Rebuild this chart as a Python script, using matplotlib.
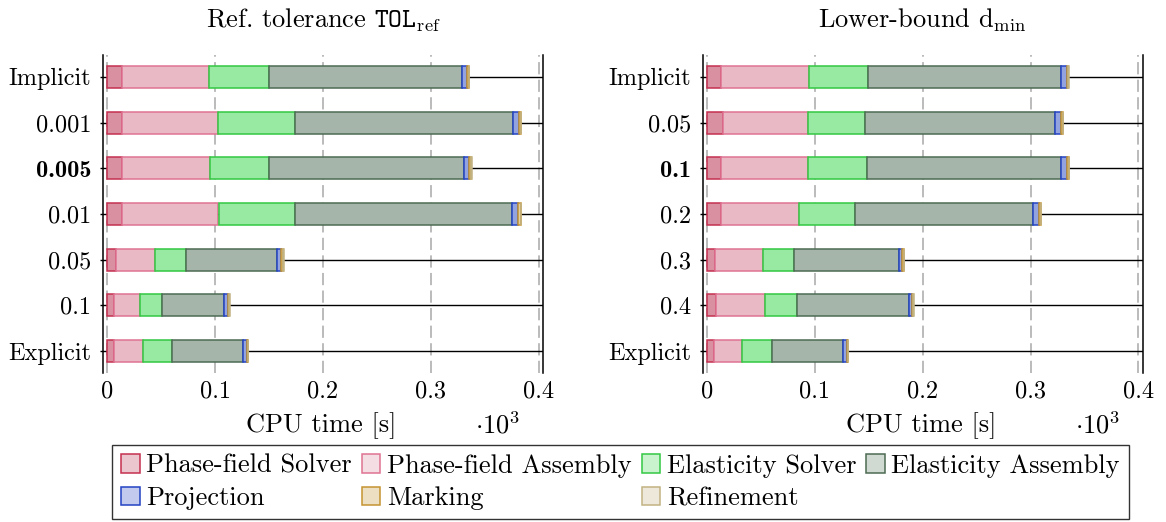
import numpy as np
import matplotlib
matplotlib.use("Agg")
import matplotlib.pyplot as plt
from matplotlib.patches import Patch

plt.rcParams["font.family"] = ["cmr10", "DejaVu Serif"]
plt.rcParams["mathtext.fontset"] = "cm"
plt.rcParams["axes.formatter.use_mathtext"] = True
plt.rcParams["font.size"] = 17.5

# CPU time per component [s]
tol_labels = ["Implicit", "0.001", "0.005", "0.01", "0.05", "0.1", "Explicit"]
tol_pf_solver = [13.3, 13.6, 13.3, 13.6, 8.3, 5.9, 6.5]
tol_pf_assembly = [80.8, 89.2, 81.5, 89.5, 35.5, 24.0, 26.5]
tol_el_solver = [55.6, 71.3, 55.2, 70.7, 29.3, 21.0, 27.2]
tol_el_assembly = [179.0, 202.1, 180.6, 201.8, 84.6, 57.7, 65.4]
tol_projection = [4.9, 5.3, 4.6, 5.3, 3.7, 3.7, 3.7]
tol_marking = [1.6, 2.1, 2.5, 2.4, 1.6, 1.0, 0.9]
tol_refinement = [0.4, 0.4, 0.4, 0.4, 0.4, 0.4, 0.4]

dmin_labels = ["Implicit", "0.05", "0.1", "0.2", "0.3", "0.4", "Explicit"]
dmin_pf_solver = [13.3, 14.5, 13.3, 12.9, 7.4, 8.0, 6.2]
dmin_pf_assembly = [81.0, 78.9, 80.4, 72.8, 44.4, 46.2, 26.5]
dmin_el_solver = [55.2, 53.3, 54.8, 51.4, 29.2, 29.6, 27.4]
dmin_el_assembly = [178.7, 176.0, 179.7, 165.2, 97.1, 103.3, 65.6]
dmin_projection = [5.2, 5.5, 5.5, 5.3, 3.1, 3.0, 3.7]
dmin_marking = [1.6, 1.5, 1.9, 1.8, 1.2, 1.3, 0.9]
dmin_refinement = [0.4, 0.4, 0.4, 0.4, 0.4, 0.4, 0.4]

component_names = ["Phase-field Solver", "Phase-field Assembly", "Elasticity Solver",
                   "Elasticity Assembly", "Projection", "Marking", "Refinement"]
bar_faces = ["#d991a1", "#e9b9c5", "#98e9a1", "#a6b5a9", "#93a3e0", "#e2d2a3", "#e9e1cd"]
edge_colors = ["#c4304f", "#df7393", "#33c843", "#4d6b53", "#2443c4", "#c49331", "#c2b383"]
legend_faces = ["#ecc6ce", "#f4dde3", "#c8f3cc", "#d0d9d2", "#c2cbed", "#ecdfc2", "#eee8da"]

xticks = [0.0, 0.1, 0.2, 0.3, 0.4]
big = 19

fig = plt.figure(figsize=(11.66, 5.22), dpi=100)
W, H = 1166, 522


def panel(left_px, labels, series, bold_label, title):
    ax = fig.add_axes([left_px / W, 1 - 373 / H, 440 / W, 318 / H])
    y = np.arange(len(labels))
    left = np.zeros(len(labels))
    for vals, fc, ec in zip(series, bar_faces, edge_colors):
        v = np.asarray(vals) / 1e3
        ax.barh(y, v, left=left, height=0.48, color=fc, edgecolor=ec,
                linewidth=1.1, zorder=3)
        left += v
    ax.set_xlim(-0.004, 0.404)
    ax.set_ylim(-0.48, len(labels) - 0.52)
    ax.invert_yaxis()
    ax.set_xticks(xticks)
    ax.set_xticklabels(["0", "0.1", "0.2", "0.3", "0.4"])
    ax.set_yticks(y)
    tl = ax.set_yticklabels(labels)
    for t in tl:
        if t.get_text() == bold_label:
            t.set_fontfamily("cmb10")
    for xt in xticks:
        ax.axvline(xt, color="#a8a8a8", lw=1.1, dashes=(8, 3.5), zorder=1)
    for yy in y:
        ax.axhline(yy, color="black", lw=1.0, zorder=2)
    ax.tick_params(axis="x", length=0, pad=5)
    ax.tick_params(axis="y", length=2.5, width=1.0, pad=6, direction="out")
    for s in ("top", "bottom"):
        ax.spines[s].set_visible(False)
    for s in ("left", "right"):
        ax.spines[s].set_linewidth(1.1)
    ax.text(0.497, -0.165, "CPU time [s]", transform=ax.transAxes,
            ha="center", va="center", fontsize=big)
    ax.text(0.897, -0.165, r"$\cdot 10^3$", transform=ax.transAxes,
            ha="center", va="center", fontsize=big)
    ax.text(0.5, 1 + 35 / 318, title, transform=ax.transAxes,
            ha="center", va="center", fontsize=big)
    return ax


panel(103, tol_labels,
      [tol_pf_solver, tol_pf_assembly, tol_el_solver, tol_el_assembly,
       tol_projection, tol_marking, tol_refinement],
      "0.005", r"Ref. tolerance $\mathtt{TOL}_{\mathrm{ref}}$")
panel(702.7, dmin_labels,
      [dmin_pf_solver, dmin_pf_assembly, dmin_el_solver, dmin_el_assembly,
       dmin_projection, dmin_marking, dmin_refinement],
      "0.1", r"Lower-bound $\mathrm{d}_{\mathrm{min}}$")

handles = [Patch(facecolor=f, edgecolor=e, linewidth=1.1)
           for f, e in zip(legend_faces, edge_colors)]
order = [0, 4, 1, 5, 2, 6, 3]
leg = fig.legend([handles[i] for i in order], [component_names[i] for i in order],
                 ncol=4, loc="upper left", bbox_to_anchor=(112 / W, 1 - 445 / H),
                 frameon=True, fancybox=False, edgecolor="black",
                 handlelength=0.7, handleheight=0.7, handletextpad=0.25,
                 columnspacing=0.38, borderpad=0.35, borderaxespad=0,
                 labelspacing=0.32, fontsize=big)
leg.get_frame().set_linewidth(1.0)

fig.savefig("out.png", dpi=100)
